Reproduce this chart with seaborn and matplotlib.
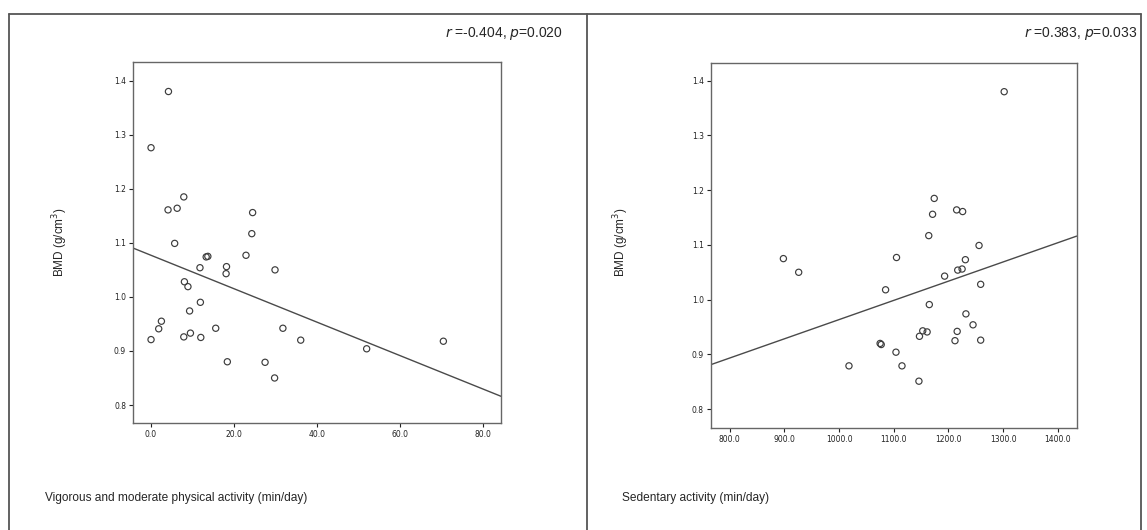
import numpy as np
import pandas as pd
import seaborn as sns
import matplotlib.pyplot as plt
from matplotlib.lines import Line2D

# Left panel: vigorous + moderate physical activity vs BMD
vig_pa = [4.2, 0.0, 7.9, 4.1, 6.3, 24.5, 24.3, 5.7,
          13.3, 13.7, 22.9, 11.8, 18.2, 18.1, 29.9, 8.05, 8.9, 11.9, 9.3,
          2.5, 1.85, 15.6, 31.8, 9.5, 0.0, 7.9, 12.0, 36.1, 52.0, 18.4,
          27.5, 29.8, 70.5]
bmd_left = [1.380, 1.276, 1.185, 1.161, 1.164, 1.156, 1.117, 1.099,
            1.074, 1.075, 1.077, 1.054, 1.056, 1.043, 1.050, 1.028, 1.019, 0.990, 0.974,
            0.955, 0.941, 0.942, 0.942, 0.933, 0.921, 0.926, 0.925, 0.920, 0.904, 0.880,
            0.879, 0.850, 0.918]

# Right panel: sedentary activity vs BMD
sed_act = [898, 926, 1085, 1075, 1077, 1018,
           1302, 1174, 1171, 1215, 1226, 1164, 1256,
           1105, 1231, 1217, 1225, 1193, 1259, 1165, 1232, 1245, 1153, 1161,
           1147, 1216, 1212, 1259, 1104, 1115, 1146]
bmd_right = [1.075, 1.050, 1.018, 0.920, 0.918, 0.879,
             1.380, 1.185, 1.156, 1.164, 1.161, 1.117, 1.099,
             1.077, 1.073, 1.054, 1.056, 1.043, 1.028, 0.991, 0.974, 0.954, 0.943, 0.941,
             0.933, 0.942, 0.925, 0.926, 0.904, 0.879, 0.851]

left_ticks = [0, 20, 40, 60, 80]
right_ticks = [800, 900, 1000, 1100, 1200, 1300, 1400]
y_ticks = [0.8, 0.9, 1.0, 1.1, 1.2, 1.3, 1.4]

df_left = pd.DataFrame({"pa": vig_pa, "bmd": bmd_left})
df_right = pd.DataFrame({"sed": sed_act, "bmd": bmd_right})

sns.set_style("white")
plt.rcParams["font.family"] = ["Liberation Sans", "DejaVu Sans"]

W, H = 1147, 530
fig = plt.figure(figsize=(W / 100, H / 100), dpi=100)

def box(x0, y0, x1, y1):
    return [x0 / W, 1 - y1 / H, (x1 - x0) / W, (y1 - y0) / H]

ax1 = fig.add_axes(box(133, 62, 501, 423))
ax2 = fig.add_axes(box(710.7, 62.7, 1076.7, 427.7))

edge = "#3c3c3c"
scatter_kws = {"facecolors": "none", "s": 20, "linewidths": 0.85, "alpha": 1}
line_kws = {"linewidth": 1.0, "color": "#4a4a4a"}

setups = [
    (ax1, df_left, "pa", (-4.35, 84.4), (0.7667, 1.4346), left_ticks),
    (ax2, df_right, "sed", (765, 1434.7), (0.766, 1.433), right_ticks),
]
for ax, d, col, xl, yl, xt in setups:
    ax.set_xlim(*xl)
    ax.set_ylim(*yl)
    sns.regplot(data=d, x=col, y="bmd", ax=ax, ci=None, truncate=False,
                color=edge, scatter_kws=scatter_kws, line_kws=line_kws)
    ax.set_xlim(*xl)
    ax.set_ylim(*yl)
    ax.set_xticks(xt)
    ax.set_xticklabels([f"{v:.1f}" for v in xt])
    ax.set_yticks(y_ticks)
    ax.set_yticklabels([f"{v:.1f}" for v in y_ticks])
    ax.set_xlabel("")
    ax.set_ylabel("")
    ax.tick_params(axis="both", which="both", length=3, width=0.8, pad=2,
                   labelsize=5.5, colors="#222222", bottom=True, left=True,
                   top=False, right=False)
    for lab in ax.get_xticklabels() + ax.get_yticklabels():
        lab.set_family("DejaVu Sans")
    for s in ax.spines.values():
        s.set_color("#666666")
        s.set_linewidth(1.0)

# axis titles
fig.text(60 / W, 1 - 242 / H, "BMD (g/cm$^3$)", rotation=90, ha="center",
         va="center", fontsize=8.5)
fig.text(621 / W, 1 - 242 / H, "BMD (g/cm$^3$)", rotation=90, ha="center",
         va="center", fontsize=8.5)
fig.text(45 / W, 1 - 498 / H, "Vigorous and moderate physical activity (min/day)",
         ha="left", va="center", fontsize=8.6)
fig.text(622 / W, 1 - 498 / H, "Sedentary activity (min/day)",
         ha="left", va="center", fontsize=8.6)

# correlation annotations
fig.text(563 / W, 1 - 33 / H, "$\\it{r}$ =-0.404, $\\it{p}$=0.020", ha="right",
         va="center", fontsize=10)
fig.text(1137 / W, 1 - 33 / H, "$\\it{r}$ =0.383, $\\it{p}$=0.033", ha="right",
         va="center", fontsize=10)

# outer frame and divider
fc = "#555555"
for xs, ys in [([9, 1141], [14, 14]), ([9, 9], [14, 530]), ([1141, 1141], [14, 530]),
               ([587, 587], [14, 530])]:
    fig.add_artist(Line2D([x / W for x in xs], [1 - y / H for y in ys],
                          color=fc, linewidth=1.3))

fig.savefig("out.png", dpi=100)
